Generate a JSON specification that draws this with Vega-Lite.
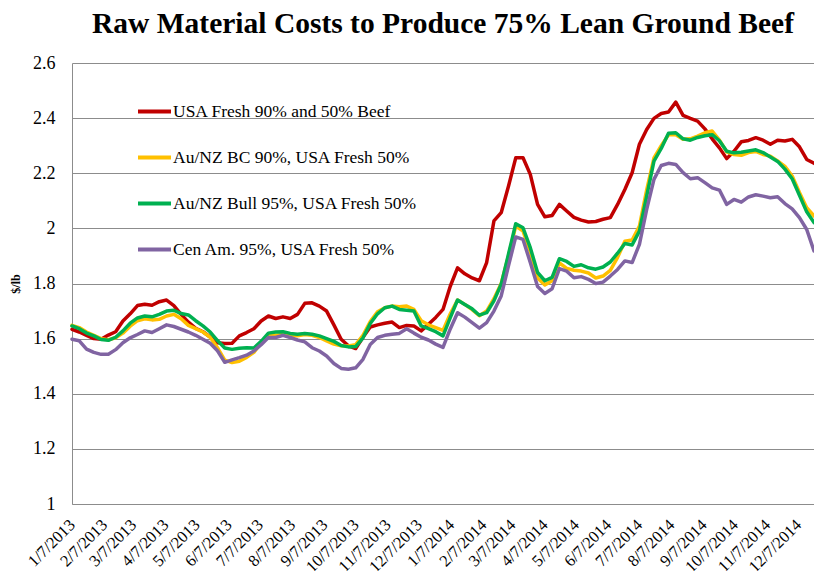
{
"$schema": "https://vega.github.io/schema/vega-lite/v6.json",
"width": 742, "height": 441,
"autosize": {"type": "none"},
"padding": {"left": 72, "top": 63, "right": 0, "bottom": 67},
"background": "white",
"title": {"text": "Raw Material Costs to Produce 75% Lean Ground Beef", "font": "Liberation Serif", "fontSize": 29.5, "fontWeight": "bold", "color": "black", "anchor": "middle", "offset": 15},
"datasets": {
"series": [
{"k": "r", "name": "USA Fresh 90% and 50% Beef"},
{"k": "y", "name": "Au/NZ BC 90%, USA Fresh 50%"},
{"k": "g", "name": "Au/NZ Bull 95%, USA Fresh 50%"},
{"k": "p", "name": "Cen Am. 95%, USA Fresh 50%"}
]
},
"data": {"values": [
{"d":"2013-01-07","r":1.634,"y":1.648,"g":1.646,"p":1.598},
{"d":"2013-01-14","r":1.624,"y":1.640,"g":1.636,"p":1.592},
{"d":"2013-01-21","r":1.612,"y":1.624,"g":1.620,"p":1.562},
{"d":"2013-01-28","r":1.600,"y":1.612,"g":1.610,"p":1.550},
{"d":"2013-02-04","r":1.598,"y":1.600,"g":1.597,"p":1.543},
{"d":"2013-02-11","r":1.613,"y":1.596,"g":1.594,"p":1.543},
{"d":"2013-02-18","r":1.625,"y":1.603,"g":1.605,"p":1.560},
{"d":"2013-02-25","r":1.664,"y":1.620,"g":1.628,"p":1.585},
{"d":"2013-03-04","r":1.690,"y":1.645,"g":1.656,"p":1.603},
{"d":"2013-03-11","r":1.720,"y":1.665,"g":1.675,"p":1.615},
{"d":"2013-03-18","r":1.725,"y":1.672,"g":1.682,"p":1.628},
{"d":"2013-03-25","r":1.721,"y":1.668,"g":1.679,"p":1.622},
{"d":"2013-04-01","r":1.734,"y":1.670,"g":1.688,"p":1.636},
{"d":"2013-04-08","r":1.740,"y":1.682,"g":1.700,"p":1.650},
{"d":"2013-04-15","r":1.720,"y":1.688,"g":1.703,"p":1.644},
{"d":"2013-04-22","r":1.688,"y":1.672,"g":1.691,"p":1.634},
{"d":"2013-04-29","r":1.660,"y":1.648,"g":1.686,"p":1.624},
{"d":"2013-05-06","r":1.637,"y":1.636,"g":1.665,"p":1.612},
{"d":"2013-05-13","r":1.625,"y":1.624,"g":1.646,"p":1.598},
{"d":"2013-05-20","r":1.606,"y":1.605,"g":1.624,"p":1.583},
{"d":"2013-05-27","r":1.585,"y":1.567,"g":1.593,"p":1.556},
{"d":"2013-06-03","r":1.582,"y":1.522,"g":1.566,"p":1.514},
{"d":"2013-06-10","r":1.583,"y":1.513,"g":1.561,"p":1.523},
{"d":"2013-06-17","r":1.610,"y":1.518,"g":1.565,"p":1.531},
{"d":"2013-06-24","r":1.622,"y":1.532,"g":1.567,"p":1.540},
{"d":"2013-07-01","r":1.636,"y":1.550,"g":1.566,"p":1.555},
{"d":"2013-07-08","r":1.664,"y":1.585,"g":1.590,"p":1.578},
{"d":"2013-07-15","r":1.682,"y":1.612,"g":1.620,"p":1.604},
{"d":"2013-07-22","r":1.673,"y":1.612,"g":1.624,"p":1.604},
{"d":"2013-07-29","r":1.679,"y":1.615,"g":1.625,"p":1.612},
{"d":"2013-08-05","r":1.673,"y":1.612,"g":1.619,"p":1.604},
{"d":"2013-08-12","r":1.688,"y":1.610,"g":1.616,"p":1.595},
{"d":"2013-08-19","r":1.728,"y":1.615,"g":1.619,"p":1.588},
{"d":"2013-08-26","r":1.730,"y":1.612,"g":1.616,"p":1.567},
{"d":"2013-09-02","r":1.718,"y":1.604,"g":1.610,"p":1.555},
{"d":"2013-09-09","r":1.700,"y":1.592,"g":1.600,"p":1.537},
{"d":"2013-09-16","r":1.650,"y":1.580,"g":1.590,"p":1.510},
{"d":"2013-09-23","r":1.598,"y":1.574,"g":1.575,"p":1.492},
{"d":"2013-09-30","r":1.574,"y":1.573,"g":1.570,"p":1.489},
{"d":"2013-10-07","r":1.564,"y":1.578,"g":1.571,"p":1.494},
{"d":"2013-10-14","r":1.605,"y":1.612,"g":1.603,"p":1.525},
{"d":"2013-10-21","r":1.642,"y":1.662,"g":1.655,"p":1.579},
{"d":"2013-10-28","r":1.650,"y":1.697,"g":1.690,"p":1.604},
{"d":"2013-11-04","r":1.656,"y":1.712,"g":1.712,"p":1.612},
{"d":"2013-11-11","r":1.660,"y":1.718,"g":1.718,"p":1.616},
{"d":"2013-11-18","r":1.640,"y":1.716,"g":1.706,"p":1.619},
{"d":"2013-11-25","r":1.648,"y":1.718,"g":1.703,"p":1.636},
{"d":"2013-12-02","r":1.646,"y":1.706,"g":1.700,"p":1.620},
{"d":"2013-12-09","r":1.628,"y":1.665,"g":1.646,"p":1.605},
{"d":"2013-12-16","r":1.652,"y":1.650,"g":1.636,"p":1.595},
{"d":"2013-12-23","r":1.677,"y":1.640,"g":1.625,"p":1.580},
{"d":"2013-12-30","r":1.706,"y":1.630,"g":1.610,"p":1.568},
{"d":"2014-01-06","r":1.790,"y":1.690,"g":1.676,"p":1.635},
{"d":"2014-01-13","r":1.857,"y":1.740,"g":1.740,"p":1.694},
{"d":"2014-01-20","r":1.835,"y":1.724,"g":1.724,"p":1.678},
{"d":"2014-01-27","r":1.820,"y":1.705,"g":1.708,"p":1.658},
{"d":"2014-02-03","r":1.810,"y":1.683,"g":1.685,"p":1.638},
{"d":"2014-02-10","r":1.876,"y":1.700,"g":1.694,"p":1.658},
{"d":"2014-02-17","r":2.027,"y":1.745,"g":1.737,"p":1.700},
{"d":"2014-02-24","r":2.057,"y":1.800,"g":1.797,"p":1.755},
{"d":"2014-03-03","r":2.153,"y":1.900,"g":1.906,"p":1.864},
{"d":"2014-03-10","r":2.256,"y":2.008,"g":2.017,"p":1.969},
{"d":"2014-03-17","r":2.256,"y":1.990,"g":2.002,"p":1.960},
{"d":"2014-03-24","r":2.196,"y":1.915,"g":1.930,"p":1.876},
{"d":"2014-03-31","r":2.087,"y":1.820,"g":1.840,"p":1.789},
{"d":"2014-04-07","r":2.042,"y":1.795,"g":1.810,"p":1.764},
{"d":"2014-04-14","r":2.047,"y":1.810,"g":1.822,"p":1.781},
{"d":"2014-04-21","r":2.087,"y":1.875,"g":1.890,"p":1.854},
{"d":"2014-04-28","r":2.063,"y":1.855,"g":1.880,"p":1.845},
{"d":"2014-05-05","r":2.040,"y":1.848,"g":1.862,"p":1.821},
{"d":"2014-05-12","r":2.030,"y":1.845,"g":1.868,"p":1.825},
{"d":"2014-05-19","r":2.023,"y":1.838,"g":1.857,"p":1.815},
{"d":"2014-05-26","r":2.025,"y":1.820,"g":1.852,"p":1.800},
{"d":"2014-06-02","r":2.033,"y":1.827,"g":1.860,"p":1.805},
{"d":"2014-06-09","r":2.039,"y":1.848,"g":1.878,"p":1.827},
{"d":"2014-06-16","r":2.087,"y":1.895,"g":1.910,"p":1.851},
{"d":"2014-06-23","r":2.141,"y":1.953,"g":1.945,"p":1.882},
{"d":"2014-06-30","r":2.202,"y":1.958,"g":1.940,"p":1.876},
{"d":"2014-07-07","r":2.305,"y":2.008,"g":1.990,"p":1.942},
{"d":"2014-07-14","r":2.359,"y":2.140,"g":2.117,"p":2.069},
{"d":"2014-07-21","r":2.399,"y":2.256,"g":2.244,"p":2.178},
{"d":"2014-07-28","r":2.417,"y":2.300,"g":2.290,"p":2.228},
{"d":"2014-08-04","r":2.422,"y":2.340,"g":2.345,"p":2.236},
{"d":"2014-08-11","r":2.458,"y":2.340,"g":2.347,"p":2.232},
{"d":"2014-08-18","r":2.410,"y":2.323,"g":2.325,"p":2.202},
{"d":"2014-08-25","r":2.399,"y":2.325,"g":2.320,"p":2.180},
{"d":"2014-09-01","r":2.389,"y":2.335,"g":2.330,"p":2.184},
{"d":"2014-09-08","r":2.361,"y":2.347,"g":2.336,"p":2.166},
{"d":"2014-09-15","r":2.325,"y":2.353,"g":2.340,"p":2.147},
{"d":"2014-09-22","r":2.292,"y":2.320,"g":2.318,"p":2.139},
{"d":"2014-09-29","r":2.253,"y":2.278,"g":2.280,"p":2.087},
{"d":"2014-10-06","r":2.280,"y":2.268,"g":2.274,"p":2.105},
{"d":"2014-10-13","r":2.314,"y":2.265,"g":2.276,"p":2.095},
{"d":"2014-10-20","r":2.319,"y":2.275,"g":2.281,"p":2.114},
{"d":"2014-10-27","r":2.329,"y":2.279,"g":2.285,"p":2.122},
{"d":"2014-11-03","r":2.320,"y":2.268,"g":2.275,"p":2.117},
{"d":"2014-11-10","r":2.305,"y":2.262,"g":2.259,"p":2.111},
{"d":"2014-11-17","r":2.320,"y":2.245,"g":2.243,"p":2.115},
{"d":"2014-11-24","r":2.317,"y":2.225,"g":2.215,"p":2.090},
{"d":"2014-12-01","r":2.323,"y":2.190,"g":2.180,"p":2.071},
{"d":"2014-12-08","r":2.296,"y":2.130,"g":2.120,"p":2.039},
{"d":"2014-12-15","r":2.250,"y":2.075,"g":2.060,"p":1.996},
{"d":"2014-12-22","r":2.236,"y":2.045,"g":2.021,"p":1.918}
]},
"transform": [
{"fold": ["r", "y", "g", "p"], "as": ["k", "v"]},
{"lookup": "k", "from": {"data": {"name": "series"}, "key": "k", "fields": ["name"]}}
],
"mark": {"type": "line", "strokeWidth": 3.5, "strokeJoin": "round", "strokeCap": "round"},
"encoding": {
"x": {"field": "d", "type": "temporal",
 "scale": {"type": "utc", "domain": [{"year": 2013, "month": 1, "date": 7, "utc": true}, {"year": 2014, "month": 12, "date": 22, "utc": true}]},
 "axis": {"title": null, "grid": false, "ticks": false, "domain": true, "domainColor": "#8c8c8c", "domainWidth": 1,
  "values": [
   {"year":2013,"month":1,"date":7,"utc":true},{"year":2013,"month":2,"date":7,"utc":true},{"year":2013,"month":3,"date":7,"utc":true},{"year":2013,"month":4,"date":7,"utc":true},{"year":2013,"month":5,"date":7,"utc":true},{"year":2013,"month":6,"date":7,"utc":true},{"year":2013,"month":7,"date":7,"utc":true},{"year":2013,"month":8,"date":7,"utc":true},{"year":2013,"month":9,"date":7,"utc":true},{"year":2013,"month":10,"date":7,"utc":true},{"year":2013,"month":11,"date":7,"utc":true},{"year":2013,"month":12,"date":7,"utc":true},
   {"year":2014,"month":1,"date":7,"utc":true},{"year":2014,"month":2,"date":7,"utc":true},{"year":2014,"month":3,"date":7,"utc":true},{"year":2014,"month":4,"date":7,"utc":true},{"year":2014,"month":5,"date":7,"utc":true},{"year":2014,"month":6,"date":7,"utc":true},{"year":2014,"month":7,"date":7,"utc":true},{"year":2014,"month":8,"date":7,"utc":true},{"year":2014,"month":9,"date":7,"utc":true},{"year":2014,"month":10,"date":7,"utc":true},{"year":2014,"month":11,"date":7,"utc":true},{"year":2014,"month":12,"date":7,"utc":true}
  ],
  "labelExpr": "utcFormat(datum.value, '%-m/%-d/%Y')",
  "labelAngle": -45, "labelAlign": "right", "labelBaseline": "middle", "labelPadding": 18,
  "labelFont": "Liberation Serif", "labelFontSize": 16.5, "labelColor": "black", "labelOverlap": false, "labelFlush": false, "labelBound": false}},
"y": {"field": "v", "type": "quantitative",
 "scale": {"domain": [1, 2.6], "nice": false, "zero": false},
 "axis": {"title": "$/lb", "titleFont": "Liberation Serif", "titleFontSize": 12, "titleFontWeight": "bold", "titleColor": "black", "titlePadding": 10,
  "values": [1, 1.2, 1.4, 1.6, 1.8, 2, 2.2, 2.4, 2.6], "format": "~g",
  "grid": true, "gridColor": "#8c8c8c", "gridWidth": 1, "ticks": false, "domain": true, "domainColor": "#8c8c8c",
  "labelFont": "Liberation Serif", "labelFontSize": 18, "labelColor": "black", "labelPadding": 17}},
"color": {"field": "name", "type": "nominal",
 "scale": {"domain": ["USA Fresh 90% and 50% Beef", "Au/NZ BC 90%, USA Fresh 50%", "Au/NZ Bull 95%, USA Fresh 50%", "Cen Am. 95%, USA Fresh 50%"], "range": ["#C00000", "#FFC000", "#00B050", "#8064A2"]},
 "legend": {"title": null, "orient": "none", "legendX": 64, "legendY": 30, "direction": "vertical", "padding": 0,
  "symbolType": "stroke", "symbolSize": 1089, "symbolStrokeWidth": 4, "labelFont": "Liberation Serif", "labelFontSize": 17.5, "labelColor": "black", "labelOffset": 0, "rowPadding": 19, "labelLimit": 400}}
},
"config": {"view": {"stroke": null}}
}
